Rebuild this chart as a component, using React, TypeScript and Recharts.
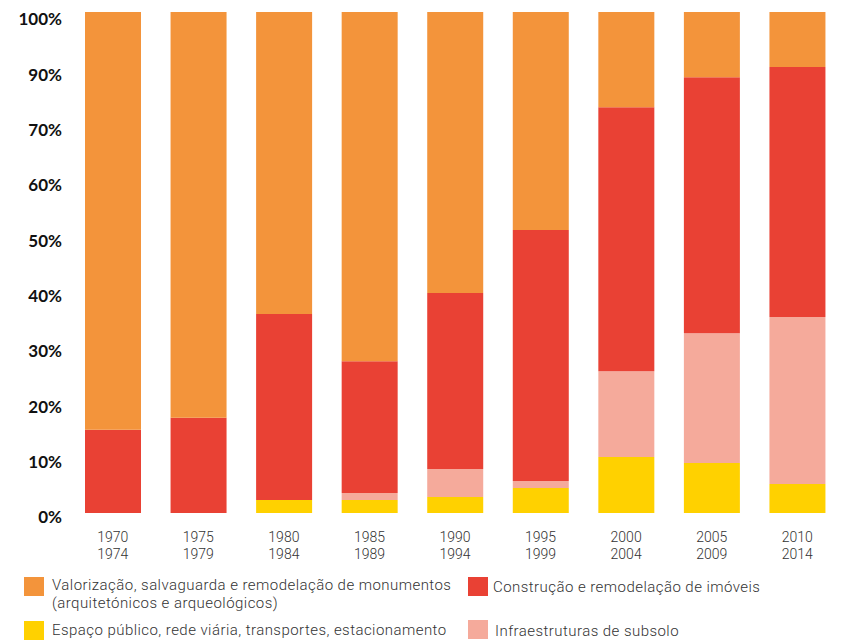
import React from "react";
import { BarChart, Bar, XAxis, YAxis } from "recharts";

const periodStart = ["1970", "1975", "1980", "1985", "1990", "1995", "2000", "2005", "2010"];
const periodEnd = ["1974", "1979", "1984", "1989", "1994", "1999", "2004", "2009", "2014"];

const espacoPublico = [0, 0, 2.6, 2.6, 3.2, 5.0, 11.2, 10.0, 5.8];
const infraestruturas = [0, 0, 0, 1.4, 5.6, 1.4, 17.1, 25.9, 33.3];
const construcao = [16.6, 19.0, 37.1, 26.3, 35.1, 50.1, 52.7, 51.1, 49.9];
const valorizacao = [83.4, 81.0, 60.3, 69.7, 56.1, 43.5, 19.0, 13.0, 11.0];

const yTickLabels = ["0%", "10%", "20%", "30%", "40%", "50%", "60%", "70%", "90%", "100%"];

const seriesNames = {
  valorizacao: "Valorização, salvaguarda e remodelação de monumentos (arquitetónicos e arqueológicos)",
  construcao: "Construção e remodelação de imóveis",
  espaco: "Espaço público, rede viária, transportes, estacionamento",
  infra: "Infraestruturas de subsolo",
};

const COLORS = {
  orange: "#F3943B",
  red: "#E94134",
  pink: "#F5AA9B",
  yellow: "#FFD100",
};

const data = periodStart.map((s, i) => ({
  period: s + "-" + periodEnd[i],
  start: s,
  end: periodEnd[i],
  espaco: espacoPublico[i],
  infra: infraestruturas[i],
  construcao: construcao[i],
  valorizacao: valorizacao[i],
}));

const labelFont = "Roboto, 'Noto Sans', sans-serif";

const XTick = (props: any) => {
  const { x, y, index } = props;
  return (
    <g>
      <text x={x} y={y + 29} textAnchor="middle" fill="#333" fontFamily={labelFont} fontWeight={300} fontSize={14}>
        {periodStart[index]}
      </text>
      <text x={x} y={y + 46} textAnchor="middle" fill="#333" fontFamily={labelFont} fontWeight={300} fontSize={14}>
        {periodEnd[index]}
      </text>
    </g>
  );
};

const YTick = (props: any) => {
  const { x, y, payload } = props;
  return (
    <text
      x={x}
      y={y + 4}
      dy="0.36em"
      textAnchor="end"
      fill="#111"
      fontFamily="Lato, sans-serif"
      fontWeight={700}
      fontSize={17}
    >
      {yTickLabels[payload.value]}
    </text>
  );
};

const legendItems = [
  { color: COLORS.orange, text: ["Valorização, salvaguarda e remodelação de monumentos", "(arquitetónicos e arqueológicos)"], sx: 24, sy: 577, tx: 52, ty: 576 },
  { color: COLORS.red, text: [seriesNames.construcao], sx: 468, sy: 577, tx: 493, ty: 578 },
  { color: COLORS.yellow, text: [seriesNames.espaco], sx: 24, sy: 621, tx: 52, ty: 621 },
  { color: COLORS.pink, text: [seriesNames.infra], sx: 468, sy: 620, tx: 495, ty: 622 },
];

export default function App() {
  return (
    <div style={{ position: "absolute", left: 0, top: 0, width: 842, height: 642, background: "#fff" }}>
      <BarChart
        width={842}
        height={642}
        data={data}
        margin={{ top: 12, right: 2, left: 0, bottom: 0 }}
        barSize={56}
      >
        <XAxis
          dataKey="period"
          height={129}
          tickLine={false}
          axisLine={false}
          tickSize={0}
          tickMargin={0}
          interval={0}
          tick={<XTick />}
        />
        <YAxis yAxisId="v" hide domain={[0, 100]} type="number" />
        <YAxis
          yAxisId="lbl"
          type="number"
          domain={[0, 9.06]}
          ticks={[0, 1, 2, 3, 4, 5, 6, 7, 8, 9]}
          width={70}
          tickLine={false}
          axisLine={false}
          tickSize={0}
          tickMargin={8}
          interval={0}
          allowDataOverflow
          tick={<YTick />}
        />
        <Bar yAxisId="v" dataKey="espaco" name={seriesNames.espaco} stackId="a" fill={COLORS.yellow} isAnimationActive={false} />
        <Bar yAxisId="v" dataKey="infra" name={seriesNames.infra} stackId="a" fill={COLORS.pink} isAnimationActive={false} />
        <Bar yAxisId="v" dataKey="construcao" name={seriesNames.construcao} stackId="a" fill={COLORS.red} isAnimationActive={false} />
        <Bar yAxisId="v" dataKey="valorizacao" name={seriesNames.valorizacao} stackId="a" fill={COLORS.orange} isAnimationActive={false} />
      </BarChart>
      {legendItems.map((it, i) => (
        <React.Fragment key={i}>
          <div style={{ position: "absolute", left: it.sx, top: it.sy, width: 20, height: 19, background: it.color }} />
          <div
            style={{
              position: "absolute",
              left: it.tx,
              top: it.ty,
              fontFamily: labelFont,
              fontWeight: 300,
              fontSize: 15,
              letterSpacing: "0.45px",
              lineHeight: "18px",
              color: "#333",
              whiteSpace: "nowrap",
            }}
          >
            {it.text.map((t, j) => (
              <div key={j}>{t}</div>
            ))}
          </div>
        </React.Fragment>
      ))}
    </div>
  );
}
